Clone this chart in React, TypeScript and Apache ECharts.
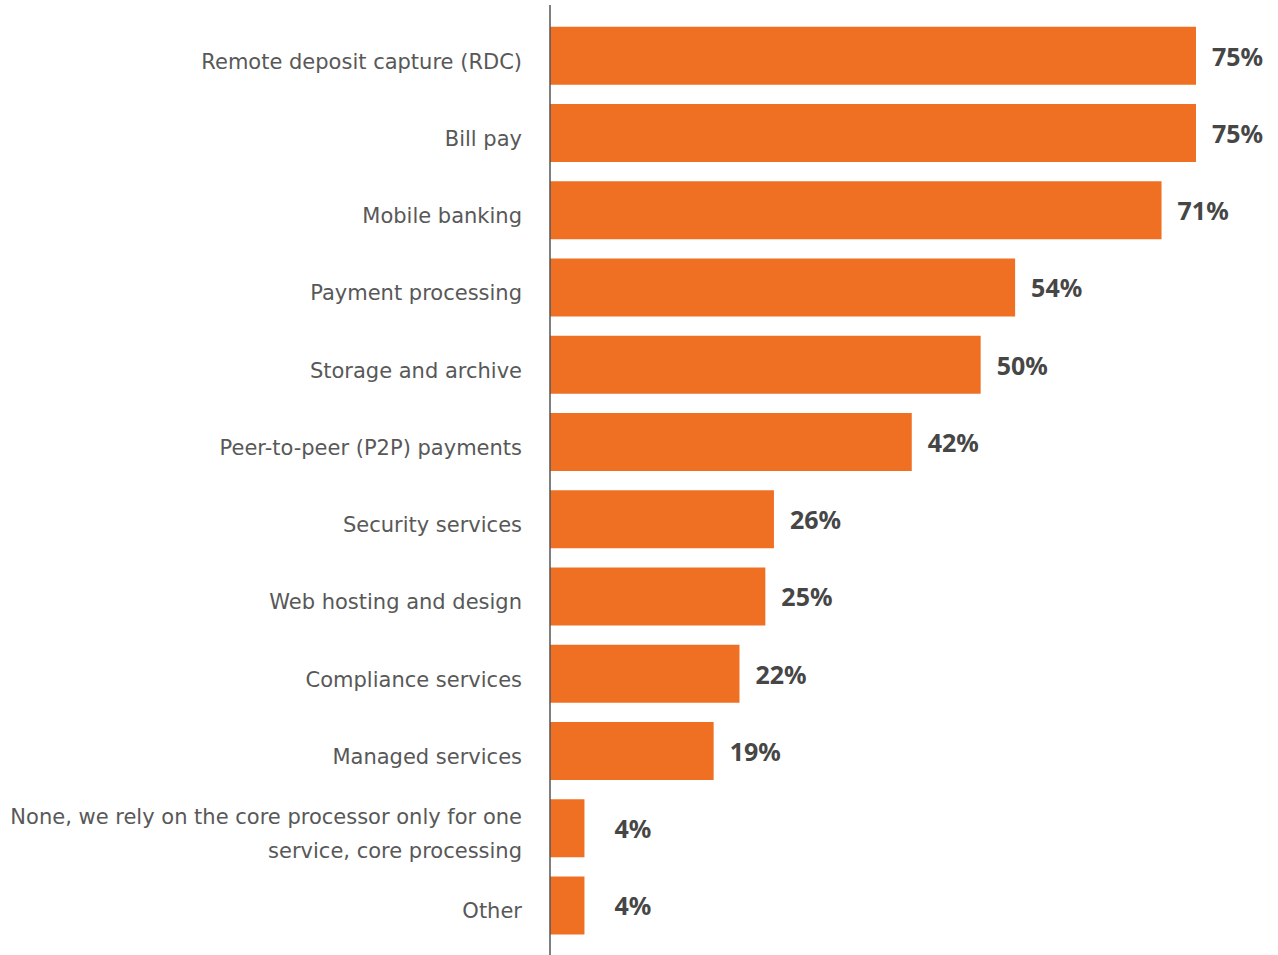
import React, { useEffect, useRef } from "react";
import * as echarts from "echarts";

const categories: string[] = [
  "Remote deposit capture (RDC)",
  "Bill pay",
  "Mobile banking",
  "Payment processing",
  "Storage and archive",
  "Peer-to-peer (P2P) payments",
  "Security services",
  "Web hosting and design",
  "Compliance services",
  "Managed services",
  "None, we rely on the core processor only for one\nservice, core processing",
  "Other",
];

const values: number[] = [75, 75, 71, 54, 50, 42, 26, 25, 22, 19, 4, 4];

export default function App() {
  const ref = useRef<HTMLDivElement>(null);

  useEffect(() => {
    if (!ref.current) return;
    const chart = echarts.init(ref.current, undefined, { renderer: "svg" });
    const data = values.map((v) => ({
      value: v,
      label: { distance: v < 10 ? 30 : 16 },
    }));
    chart.setOption({
      animation: false,
      backgroundColor: "#ffffff",
      grid: { left: 550, right: 82, top: 17, bottom: 11, containLabel: false },
      xAxis: {
        type: "value",
        min: 0,
        max: 75,
        show: false,
      },
      yAxis: {
        type: "category",
        inverse: true,
        data: categories,
        axisLine: { show: false },
        axisTick: { show: false },
        axisLabel: {
          margin: 28,
          formatter: (v: string) =>
            v
              .split("\n")
              .map((s) => `{a|${s}}`)
              .join("\n"),
          rich: {
            a: {
              color: "#585858",
              fontFamily: "DejaVu Sans",
              fontSize: 21,
              lineHeight: 34,
              padding: [12, 0, 0, 0],
            },
          },
        },
      },
      series: [
        {
          type: "bar",
          data,
          barWidth: 58,
          itemStyle: { color: "#F07023" },
          label: {
            show: true,
            position: "right",
            formatter: "{c}%",
            color: "#464646",
            fontFamily: "Noto Sans",
            fontWeight: "bold",
            fontSize: 25,
          },
        },
      ],
      graphic: [
        {
          type: "line",
          shape: { x1: 550, y1: 5, x2: 550, y2: 955 },
          style: { stroke: "#555555", lineWidth: 1.5 },
          z: 10,
        },
      ],
    });
    return () => chart.dispose();
  }, []);

  return (
    <div
      ref={ref}
      style={{ position: "fixed", left: 0, top: 0, width: 1278, height: 955 }}
    />
  );
}
